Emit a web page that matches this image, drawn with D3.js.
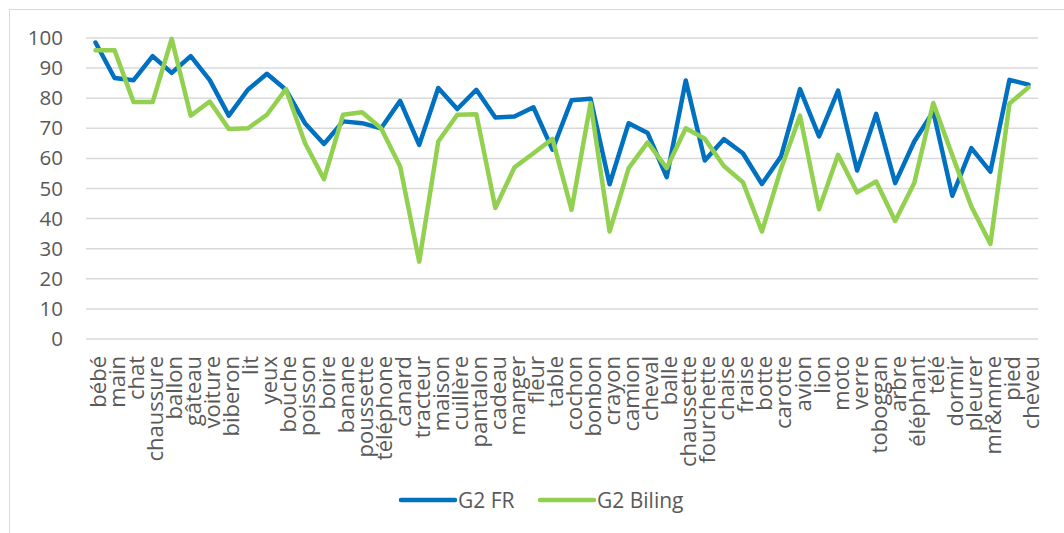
<!DOCTYPE html>
<html>
<head>
<meta charset="utf-8">
<script src="https://cdn.jsdelivr.net/npm/d3@7"></script>
<style>
  body { margin: 0; background: #fff; }
  #chart { width: 1064px; height: 533px; }
  text { font-family: "Open Sans", sans-serif; fill: #595959; }
</style>
</head>
<body>
<div id="chart"></div>
<script>
// categories (words)
const words = ["bébé", "main", "chat", "chaussure", "ballon", "gâteau", "voiture", "biberon", "lit", "yeux",
  "bouche", "poisson", "boire", "banane", "poussette", "téléphone", "canard", "tracteur", "maison", "cuillère",
  "pantalon", "cadeau", "manger", "fleur", "table", "cochon", "bonbon", "crayon", "camion", "cheval",
  "balle", "chaussette", "fourchette", "chaise", "fraise", "botte", "carotte", "avion", "lion", "moto",
  "verre", "toboggan", "arbre", "éléphant", "télé", "dormir", "pleurer", "mr&mme", "pied", "cheveu"];

const g2fr = [98.5, 86.7, 86, 94, 88.4, 94, 86, 74.2, 82.8, 88.1,
  82.8, 71.7, 64.8, 72.3, 71.7, 70, 79.1, 64.5, 83.4, 76.4,
  82.8, 73.6, 73.9, 77, 62.9, 79.3, 79.8, 51.4, 71.7, 68.4,
  53.8, 85.9, 59.3, 66.4, 61.7, 51.5, 60.6, 83, 67.3, 82.5,
  56, 74.8, 51.8, 65.6, 75.6, 47.6, 63.4, 55.6, 86.1, 84.5];

const g2biling = [95.9, 95.9, 78.7, 78.7, 99.7, 74.2, 78.9, 69.8, 70, 74.5,
  83, 65.1, 53.1, 74.5, 75.3, 70, 57.3, 25.7, 65.6, 74.5,
  74.7, 43.5, 57, 61.7, 66.5, 42.9, 78.4, 35.7, 56.8, 65.3,
  56.8, 70, 66.5, 57.5, 52.1, 35.7, 56.5, 74.2, 43.1, 61.2,
  48.7, 52.3, 39.2, 51.8, 78.4, 61, 44, 31.6, 78.2, 83.6];

const yTicks = [0, 10, 20, 30, 40, 50, 60, 70, 80, 90, 100];

const series = [
  { name: "G2 FR", values: g2fr, color: "#0070c0" },
  { name: "G2 Biling", values: g2biling, color: "#92d050" }
];

const W = 1064, H = 533;
const margin = { top: 38, right: 26, bottom: 194, left: 86 };
const width = W - margin.left - margin.right,
      height = H - margin.top - margin.bottom;

const svg = d3.select('#chart').append('svg')
  .attr('width', W).attr('height', H);

// outer chart frame
svg.append('rect')
  .attr('x', 9.5).attr('y', 9.5)
  .attr('width', W).attr('height', H)
  .attr('fill', 'none').attr('stroke', '#d9d9d9').attr('stroke-width', 1);

const g = svg.append('g')
  .attr('transform', 'translate(' + margin.left + ',' + margin.top + ')');

const x = d3.scalePoint()
  .domain(words)
  .range([0, width])
  .padding(0.5);

const y = d3.scaleLinear()
  .domain([0, 100])
  .range([height, 0]);

// gridlines
g.append('g')
  .selectAll('line')
  .data(yTicks)
  .enter().append('line')
  .attr('x1', 0).attr('x2', width)
  .attr('y1', d => y(d)).attr('y2', d => y(d))
  .attr('stroke', '#d9d9d9').attr('stroke-width', 1.5);

// y axis labels
const yAxis = g.append('g')
  .call(d3.axisLeft(y).tickValues(yTicks).tickSize(0).tickPadding(23));
yAxis.select('.domain').remove();
yAxis.selectAll('text')
  .style('font-size', '20.5px')
  .attr('fill', '#595959');

// x axis labels (rotated)
const xAxis = g.append('g')
  .attr('transform', 'translate(0,' + height + ')')
  .call(d3.axisBottom(x).tickSize(0).tickPadding(0));
xAxis.select('.domain').remove();
xAxis.selectAll('text')
  .style('font-size', '22px')
  .attr('fill', '#595959')
  .attr('text-anchor', 'end')
  .attr('dy', null)
  .attr('transform', 'translate(1,17) rotate(-90)')
  .attr('x', 0).attr('y', 0)
  .attr('dominant-baseline', 'central');

// lines
const line = d3.line()
  .x((d, i) => x(words[i]))
  .y(d => y(d));

g.selectAll('.series')
  .data(series)
  .enter().append('path')
  .attr('class', 'series')
  .attr('d', d => line(d.values))
  .attr('fill', 'none')
  .attr('stroke', d => d.color)
  .attr('stroke-width', 4.5)
  .attr('stroke-linejoin', 'round')
  .attr('stroke-linecap', 'round');

// legend
const legend = svg.append('g')
  .attr('transform', 'translate(401,500)');
const lx = [0, 139];
series.forEach((s, i) => {
  const lg = legend.append('g').attr('transform', 'translate(' + lx[i] + ',0)');
  lg.append('line')
    .attr('x1', 0).attr('x2', 54)
    .attr('stroke', s.color).attr('stroke-width', 4.5)
    .attr('stroke-linecap', 'round');
  lg.append('text')
    .attr('x', 57).attr('y', 0)
    .attr('dominant-baseline', 'central')
    .style('font-size', '21px')
    .text(s.name);
});
</script>
</body>
</html>
